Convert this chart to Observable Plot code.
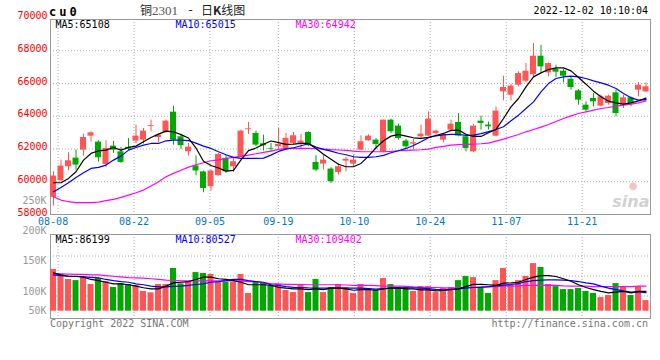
<!DOCTYPE html>
<html><head><meta charset="utf-8">
<script src="https://cdn.jsdelivr.net/npm/d3@7"></script>
<script src="https://cdn.jsdelivr.net/npm/@observablehq/plot@0.6"></script>
<style>
body{margin:0;background:#fff;}
#chart{position:relative;width:660px;height:360px;overflow:hidden;background:#fff;font-family:"DejaVu Sans Mono",monospace;}
#chart svg{position:absolute;left:0;}
.t{position:absolute;white-space:pre;line-height:1;}
</style></head><body><div id="chart"></div>
<script>
// ---- data ----
const dates = ["08-05","08-08","08-09","08-10","08-11","08-12","08-15","08-16","08-17","08-18","08-19",
"08-22","08-23","08-24","08-25","08-26","08-29","08-30","08-31","09-01","09-02",
"09-05","09-06","09-07","09-08","09-09","09-13","09-14","09-15","09-16",
"09-19","09-20","09-21","09-22","09-23","09-26","09-27","09-28","09-29","09-30",
"10-10","10-11","10-12","10-13","10-14","10-17","10-18","10-19","10-20","10-21",
"10-24","10-25","10-26","10-27","10-28","10-31","11-01","11-02","11-03","11-04",
"11-07","11-08","11-09","11-10","11-11","11-14","11-15","11-16","11-17","11-18",
"11-21","11-22","11-23","11-24","11-25","11-28","11-29","11-30","12-01","12-02"];
const open = [59045,60062,60915,61444,61932,62786,62420,61057,62176,61830,
62100,62480,62542,63380,62704,63010,64249,62745,61830,60965,
60600,59697,60368,61425,60917,61527,63180,62950,62320,62035,
62137,62035,62340,62340,63011,61181,61079,60775,60571,61260,
61079,61933,62502,62542,61831,63762,63396,62482,62299,62746,
62786,62949,62542,63152,63620,62745,61830,63701,63457,62786,
65490,65287,65897,66140,66547,67665,66649,66872,66750,66262,
65551,64677,65083,64616,64778,65429,64677,65124,65592,65490];
const high = [60610,61322,61769,61932,62908,63050,62501,62501,62460,62094,
62640,63457,63253,63762,62908,63762,64615,62908,62338,61580,
60650,60714,61730,61588,61466,63153,63621,63092,62848,62340,
63255,62950,63011,62889,63052,61588,61628,60856,61120,61486,
61628,62807,62868,62644,63762,63823,63518,62583,62583,63457,
64270,63152,62949,63762,64168,62847,63498,64006,63640,64575,
66445,65958,66710,67218,68438,68336,67259,67116,66852,66405,
65632,64880,65388,65287,65287,65592,65287,65185,66059,66039];
const low = [58516,60000,60671,60712,61566,62440,61200,60854,61728,61119,
61890,62338,62298,63050,62379,62948,62237,61972,61566,60366,
59330,59433,60348,60510,60571,61466,62889,62137,61872,61832,
62035,61933,62238,61933,62137,60612,60714,59900,60409,60611,
60900,61893,62482,61973,61770,62949,62542,61973,61973,62644,
62746,62746,62380,63050,62745,61830,61769,63152,63152,62745,
64941,64941,65795,66039,66405,66608,66405,66364,66039,65592,
64677,64270,64575,64575,64677,63965,64474,64575,65185,65449];
const close = [60346,60956,61281,61017,62704,62989,61464,62033,61932,61180,
61990,62786,63091,63430,62847,63701,62542,62200,62110,60660,
59594,60652,61669,60612,61222,63092,63230,62238,62198,61990,
62279,62645,62807,62482,62198,60714,61323,60002,60917,61370,
61322,62441,62786,62278,63762,63051,62644,62136,62380,62908,
63823,63091,62847,63518,62786,62034,63396,63559,63355,64310,
65754,65836,66608,66750,67665,67015,67218,66690,66445,65754,
64982,64372,64880,65185,65226,64168,65124,64778,65897,65795];
const ma5 = [59940,59940,60204,60610,61322,61729,61891,61932,62094,61932,
62094,62176,62440,62704,62908,63091,63050,62880,62670,62060,
61250,60990,60840,60652,60700,61340,61900,62060,62290,62490,
62390,62280,62300,62340,62340,62035,61680,61370,61070,60916,
60916,61119,61567,62075,62502,62786,62888,62786,62685,62644,
62705,62827,62950,63140,63152,62900,62766,62766,62990,63193,
63864,64575,65083,65795,66405,66649,66852,66954,66954,66771,
66364,65958,65531,65185,64921,64819,64738,64819,64941,65108];
const ma10 = [59391,59655,59940,60265,60549,60813,60875,61017,61322,61566,
61932,62094,62237,62338,62338,62501,62542,62543,62510,62360,
62177,62035,61832,61649,61486,61425,61425,61425,61445,61628,
61852,61994,62076,62198,62320,62116,61974,61870,61740,61648,
61526,61485,61485,61526,61607,61770,61892,62034,62217,62441,
62685,62807,62858,62898,62888,62837,62848,62940,63060,63193,
63355,63721,64067,64474,64880,65490,65998,66303,66405,66445,
66405,66303,66161,66039,65897,65693,65388,65124,64982,65015];
const ma30 = [59086,58883,58781,58720,58720,58720,58760,58842,58923,59045,
59187,59330,59492,59736,60001,60305,60509,60700,60896,61040,
61160,61283,61335,61425,61486,61547,61628,61710,61791,61872,
61974,62035,62035,62035,62035,62015,61994,61960,61940,61912,
61871,61831,61831,61831,61831,61851,61892,61912,61932,61953,
61993,62095,62155,62237,62268,62278,62298,62319,62360,62481,
62603,62745,62888,63050,63193,63335,63498,63681,63864,64026,
64168,64270,64372,64474,64535,64616,64677,64738,64819,64942];
// volume in thousands
const volume = [181,160,138,133,149,116,142,129,103,120,116,112,86,80,116,116,186,119,129,168,
164,160,125,125,125,160,77,129,123,109,116,90,81,116,81,138,81,103,116,103,
77,116,99,90,142,116,103,103,86,107,107,81,99,103,133,151,146,99,77,133,
186,116,133,151,207,190,116,107,94,94,99,86,77,59,68,120,107,68,107,46];
const vma5 = [167,158,152,152,148,138,133,126,119,119,115,109,102,97,97,109,123,126,129,138,
148,148,141,138,133,126,115,115,115,112,104,100,97,97,94,97,94,100,100,97,
91,94,94,91,97,100,101,97,97,93,93,88,90,94,97,107,117,117,115,112,
122,123,126,138,148,155,155,151,141,130,115,103,94,86,80,83,86,80,86,86];
const vma10 = [158,155,152,151,149,147,145,138,133,129,126,119,115,109,106,106,108,109,112,116,
119,126,129,133,138,138,133,129,126,115,112,107,104,103,101,100,100,100,101,100,
100,100,98,96,98,100,101,102,102,100,98,95,93,95,97,100,103,104,107,110,
113,116,120,129,133,135,136,136,135,133,129,123,119,109,100,94,88,83,84,81];
const vma30 = [162,162,161,160,160,158,158,155,152,149,146,145,144,141,138,135,134,132,132,132,
132,132,132,132,132,132,129,129,123,120,119,117,117,116,115,115,115,115,115,114,
112,112,112,111,109,109,109,108,106,105,103,103,102,100,103,103,104,106,106,107,
109,109,110,112,112,112,113,112,110,109,109,109,107,107,107,107,107,107,109,109];

const gridDates = ["08-08","08-22","09-05","09-19","10-10","10-24","11-07","11-21"];
const priceTicks = [58000,60000,62000,64000,66000,68000,70000];
const priceGridLines = [58000,60000,62000,64000,66000,68000];
const priceDomain = [58000,69908];
const volDomain = [-31.8,333.6];
const volGridLines = [66,153,240];
const volTickValues = [0,86,220,351,481];
const volTickLabels = ["50K","100K","150K","200K","250K"];
const priceMaLabels = ["MA5:65108","MA10:65015","MA30:64942"];
const volMaLabels = ["MA5:86199","MA10:80527","MA30:109402"];
const maColors = ["#000000","#0000ff","#ff00ff"];

// ---- build ----
const UP = "#ff5555", DOWN = "#00a800";
const rows = dates.map((d,i)=>({i,d,o:open[i],h:high[i],l:low[i],c:close[i],v:volume[i],
  ma5:ma5[i],ma10:ma10[i],ma30:ma30[i],vma5:vma5[i],vma10:vma10[i],vma30:vma30[i]}));
const col = d => d.c >= d.o ? UP : DOWN;
const gridIdx = gridDates.map(g => dates.indexOf(g));
const FONT = "'DejaVu Sans Mono', monospace";
const baseStyle = {background:"transparent", overflow:"visible", fontFamily:FONT, fontSize:"10px"};
const chart = document.getElementById("chart");
const GRID = {stroke:"#aaaaaa", strokeDasharray:"1,2"};
const candleX = [-0.4, 79.6];
const gridX = [0, dates.length - 1];

const P = {width:660, height:230, marginLeft:50, marginRight:10, marginTop:19, marginBottom:16};
const V = {width:660, height:140, marginLeft:50, marginRight:10, marginTop:44, marginBottom:12};

function maText(labels, i) {
  return Plot.text([labels[i]], {text:d=>d, frameAnchor:"top-left", textAnchor:"start", lineAnchor:"top",
    dx:5 + 120*i, dy:1, fill:maColors[i], fontSize:10});
}

const priceGrid = Plot.plot({...P, style:{...baseStyle, background:"#fff"},
  x:{domain:gridX}, y:{domain:priceDomain}, color:{type:"identity"},
  marks:[
    Plot.ruleY(priceGridLines, GRID),
    Plot.ruleX(gridIdx, GRID),
    Plot.frame({stroke:"#999999"}),
    Plot.axisY(priceTicks, {tickSize:0, tickPadding:3, dy:-2, fill:"#ff0000", color:"#ff0000", fontSize:10, tickFormat:d=>String(d)}),
    Plot.axisX(gridIdx.slice(1), {tickSize:0, tickPadding:3, fill:"#0078c8", color:"#0078c8", fontSize:10, tickFormat:d=>dates[d]}),
    Plot.axisX(gridIdx.slice(0,1), {tickSize:0, tickPadding:3, dx:-5, fill:"#0078c8", color:"#0078c8", fontSize:10, tickFormat:d=>dates[d]})
  ]});
priceGrid.style.top = "0px";

const priceData = Plot.plot({...P, style:baseStyle,
  x:{domain:candleX, axis:null}, y:{domain:priceDomain, axis:null}, color:{type:"identity"},
  marks:[
    Plot.text(["●"], {text:d=>d, frameAnchor:"bottom-right", textAnchor:"end", dx:-13, dy:-26, fill:"#f6c4c4", fontSize:10,
      fontFamily:"'DejaVu Sans', sans-serif"}),
    Plot.text(["sina"], {text:d=>d, frameAnchor:"bottom-right", textAnchor:"end", dx:-1, dy:-8, fill:"#d2d2d2",
      fontSize:16, fontStyle:"italic", fontWeight:"bold", fontFamily:"'DejaVu Sans', sans-serif"}),
    Plot.ruleX(rows, {x:"i", y1:"l", y2:"h", stroke:col}),
    Plot.rect(rows, {x1:d=>d.i-0.4, x2:d=>d.i+0.4, y1:"o", y2:"c", fill:col}),
    Plot.line(rows, {x:"i", y:"ma30", stroke:maColors[2], strokeWidth:1.2}),
    Plot.line(rows, {x:"i", y:"ma10", stroke:maColors[1], strokeWidth:1.2}),
    Plot.line(rows, {x:"i", y:"ma5", stroke:maColors[0], strokeWidth:1.2}),
    maText(priceMaLabels,0), maText(priceMaLabels,1), maText(priceMaLabels,2)
  ]});
priceData.style.top = "0px";

const volGrid = Plot.plot({...V, style:baseStyle,
  x:{domain:gridX}, y:{domain:volDomain}, color:{type:"identity"},
  marks:[
    Plot.ruleY(volGridLines, GRID),
    Plot.ruleX(gridIdx, GRID),
    Plot.frame({stroke:"#999999"}),
    Plot.axisY(volTickValues, {tickSize:0, tickPadding:4, fill:"#999999", color:"#999999", fontSize:10,
      tickFormat:d=>volTickLabels[volTickValues.indexOf(d)]}),
    Plot.axisX([], {})
  ]});
volGrid.style.top = "190px";

const volData = Plot.plot({...V, style:baseStyle,
  x:{domain:candleX, axis:null}, y:{domain:volDomain, axis:null}, color:{type:"identity"},
  marks:[
    Plot.rect(rows, {x1:d=>d.i-0.4, x2:d=>d.i+0.4, y1:0, y2:"v", fill:col}),
    Plot.line(rows, {x:"i", y:"vma30", stroke:maColors[2], strokeWidth:1.2}),
    Plot.line(rows, {x:"i", y:"vma10", stroke:maColors[1], strokeWidth:1.2}),
    Plot.line(rows, {x:"i", y:"vma5", stroke:maColors[0], strokeWidth:1.2}),
    maText(volMaLabels,0), maText(volMaLabels,1), maText(volMaLabels,2)
  ]});
volData.style.top = "190px";

chart.append(priceGrid, priceData, volGrid, volData);

function addText(html, style) {
  const el = document.createElement("div");
  el.className = "t"; el.innerHTML = html; el.setAttribute("style", style);
  chart.appendChild(el);
}
addText("cu0", "left:49px;top:5px;font:bold 12px 'DejaVu Sans Mono';letter-spacing:3px;color:#000");
addText("铜<span style=\"font-family:'Liberation Serif';color:#555;font-size:13px\">2301</span>",
  "left:140px;top:4px;font-size:12px;font-family:'Noto Sans CJK SC';color:#222");
addText("-", "left:187px;top:4px;font-size:12px;font-family:'DejaVu Sans Mono';color:#222");
addText("日<b>K</b>线图", "left:201px;top:4px;font-size:12px;font-family:'Noto Sans CJK SC';color:#222");
addText("2022-12-02 10:10:04", "right:12px;top:6px;font-size:10px;color:#000");
addText("Copyright 2022 SINA.COM", "left:50px;top:319px;font-size:10px;color:#777");
addText("http://finance.sina.com.cn", "right:12px;top:319px;font-size:10px;color:#777");
</script></body></html>
